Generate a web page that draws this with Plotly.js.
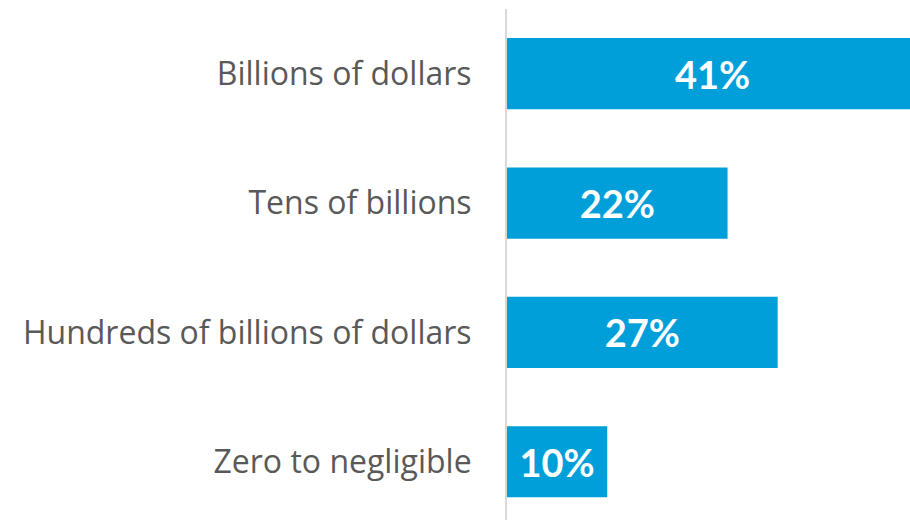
<!DOCTYPE html>
<html>
<head>
<meta charset="utf-8">
<script src="https://cdn.plot.ly/plotly-3.0.1.min.js"></script>
<style>html,body{margin:0;padding:0;background:#fff;}#chart{width:910px;height:520px;}</style>
</head>
<body>
<div id="chart"></div>
<script>
var categories = ["Billions of dollars", "Tens of billions", "Hundreds of billions of dollars", "Zero to negligible"];
var values = [41, 22, 27, 10];
var labels = ["41%", "22%", "27%", "10%"];

Plotly.newPlot("chart", [{
  type: "bar",
  orientation: "h",
  y: categories,
  x: values,
  text: labels,
  textposition: "inside",
  insidetextanchor: "middle",
  textfont: {family: "Lato, sans-serif", size: 38, color: "#ffffff", weight: "bold"},
  marker: {color: "#009FDA"},
  hoverinfo: "none",
  cliponaxis: true
}], {
  width: 910, height: 520,
  margin: {l: 507, r: 0, t: 9, b: 0},
  paper_bgcolor: "#ffffff",
  plot_bgcolor: "#ffffff",
  bargap: 0.45,
  showlegend: false,
  xaxis: {range: [0, 40.2], visible: false, fixedrange: true},
  yaxis: {
    range: [3.45, -0.5],
    showline: true, linecolor: "#d9d9d9", linewidth: 2,
    showgrid: false, zeroline: false,
    ticks: "", ticklabelstandoff: 27,
    tickfont: {family: "Open Sans, sans-serif", size: 32, color: "#595959"},
    fixedrange: true
  }
}, {displayModeBar: false, staticPlot: true});
</script>
</body>
</html>
